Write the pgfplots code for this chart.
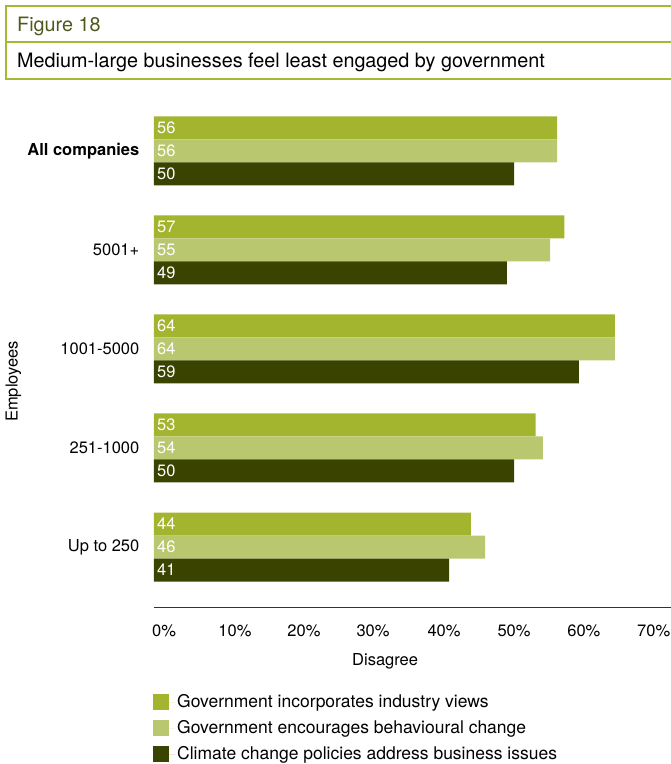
\documentclass[border=0pt]{standalone}
\usepackage{fontspec}
\setmainfont{TeX Gyre Heros}
\usepackage{pgfplots}
\pgfplotsset{compat=1.18}
\definecolor{cA}{HTML}{A3B52E}
\definecolor{cB}{HTML}{B9C86F}
\definecolor{cC}{HTML}{3A4300}
\definecolor{frameg}{HTML}{A4B934}
\definecolor{figtxt}{HTML}{4E5A1C}
\definecolor{axgray}{HTML}{333333}

\begin{document}
\fontsize{16.5}{20}\selectfont
\begin{tikzpicture}[x=1pt,y=1pt]
\useasboundingbox (0,0) rectangle (671,764);
% title box
\draw[frameg, line width=2.5pt] (680,758) -- (6,758) -- (6,685) -- (680,685);
\draw[frameg, line width=1.5pt] (6,722) -- (680,722);
\node[anchor=base west, text=figtxt, inner sep=0pt, font=\fontsize{19.8}{23}\selectfont] at (17,732) {Figure 18};
\node[anchor=base west, inner sep=0pt, font=\fontsize{19.8}{23}\selectfont] at (17,696) {Medium-large businesses feel least engaged by government};

\begin{axis}[
  at={(154pt,157pt)}, anchor=south west,
  scale only axis, width=517pt, height=507pt,
  xbar,
  xmin=0, xmax=71.8, ymin=-0.606, ymax=4.515,
  /pgf/number format/assume math mode=true,
  separate axis lines,
  axis x line*=bottom, axis y line*=left,
  x axis line style={draw=axgray, line width=0.9pt},
  y axis line style={draw=none},
  major tick length=0pt,
  xtick={1.39,11.25,20.83,30.42,40.28,50.0,59.7,69.4},
  xticklabels={0\%,10\%,20\%,30\%,40\%,50\%,60\%,70\%},
  xticklabel style={yshift=-12pt},
  ytick={0,1,2,3,4},
  yticklabels={Up to 250,251-1000,1001-5000,5001+,\textbf{All companies}},
  yticklabel style={xshift=-9pt},
  xlabel={Disagree},
  xlabel style={at={(axis description cs:0.447,-0.1065)}, anchor=center},
  ylabel={Employees},
  ylabel style={at={(axis description cs:-0.272,0.445)}, anchor=center},
  bar width=23pt,
  point meta=x,
  visualization depends on=x \as \rawx,
  nodes near coords={\pgfmathprintnumber[assume math mode=true]{\pgfplotspointmeta}},
  every node near coord/.append style={text=white, anchor=west, inner sep=3pt, shift={(axis direction cs:-\rawx,0)}},
  every axis plot post/.append style={legend image code/.code={\fill[##1] (0pt,-8pt) rectangle (16pt,8pt); \path (0pt,0pt) -- (22pt,0pt);}},
  legend style={at={(axis description cs:-0.0077,-0.164)}, anchor=north west, draw=none, fill=none,
    row sep=6.5pt, font=\fontsize{17.5}{21}\selectfont,
    nodes={inner sep=2pt}},
  legend cell align=left,
]
\addplot[bar shift=23pt, fill=cA, draw=none] coordinates {(44,0) (53,1) (64,2) (57,3) (56,4)};
\addplot[bar shift=0pt, fill=cB, draw=none] coordinates {(46,0) (54,1) (64,2) (55,3) (56,4)};
\addplot[bar shift=-23pt, fill=cC, draw=none] coordinates {(41,0) (50,1) (59,2) (49,3) (50,4)};
\legend{Government incorporates industry views, Government encourages behavioural change, Climate change policies address business issues}
\end{axis}
\end{tikzpicture}
\end{document}
